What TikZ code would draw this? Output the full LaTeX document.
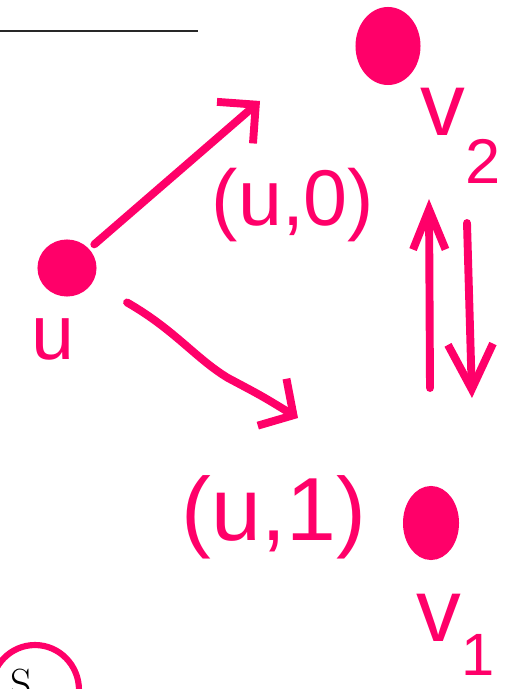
\documentclass[tikz,border=0pt]{standalone}
\usepackage{fontspec}
\usepackage{xcolor}
\usetikzlibrary{arrows.meta}
\usetikzlibrary{shapes.geometric}
\newfontfamily\handfont{Liberation Sans}
\definecolor{inkpink}{RGB}{255,0,105}
\definecolor{rulegray}{RGB}{40,40,40}

\begin{document}
\begin{tikzpicture}[x=0.02cm,y=-0.02cm,
hand/.style={color=inkpink, line width=4.5pt, line cap=round, line join=round},
dot/.style={ellipse, draw=inkpink, fill=inkpink, line width=4pt, inner sep=0pt},
ink/.style={text=inkpink, inner sep=0pt, font=\handfont\fontsize{#1}{#1}\selectfont}]
\useasboundingbox (0,0) rectangle (513,689);

\draw[line width=1.2pt, color=rulegray] (0,31) -- (198,31);

\node[dot, minimum width=1.04cm, minimum height=1cm] (u) at (67,268) {};
\node[dot, minimum width=1.16cm, minimum height=1.42cm] (v2) at (388,46) {};
\node[dot, minimum width=0.98cm, minimum height=1.34cm] (v1) at (431,523) {};

\node[ink=44] (ulab) at (53,339) {u};
\node[ink=51, anchor=north west] (v2lab) at (420,88) {v\raisebox{-27pt}{\fontsize{36}{36}\selectfont 2}};
\node[ink=51, anchor=north west] (v1lab) at (416,594) {v\raisebox{-19pt}{\fontsize{34}{34}\selectfont 1}};
\node[ink=45] (lab0) at (293,205) {(u,0)};
\node[ink=51] (lab1) at (274,517) {(u,1)};

\coordinate (e1) at (260,101);
\coordinate (e2) at (298,418);
\draw[hand, -{Straight Barb[length=0.55cm, width=1.1cm]}, shorten <=4pt] (u) -- (e1);
\draw[hand, -{Straight Barb[length=0.5cm, width=1.1cm]}, shorten <=0.8cm] (u) .. controls (175,330) and (195,358) .. (228,378) .. controls (262,396) .. (e2);

% edges between v1 and v2
\coordinate (b1) at (430,388);
\coordinate (t1) at (429,199);
\coordinate (t2) at (467,223);
\coordinate (b2) at (472,398);
\draw[hand, -{Straight Barb[length=0.8cm, width=0.65cm]}] (b1) -- (t1);
\draw[hand, -{Straight Barb[length=0.9cm, width=0.9cm]}] (t2) -- (b2);

\node[ellipse, draw=inkpink, line width=3.5pt, minimum width=1.76cm, minimum height=1.8cm] (sset) at (35,690) {};
\node[font=\fontsize{24}{24}\selectfont, inner sep=0pt] (slab) at (21,684) {S};
\end{tikzpicture}
\end{document}
